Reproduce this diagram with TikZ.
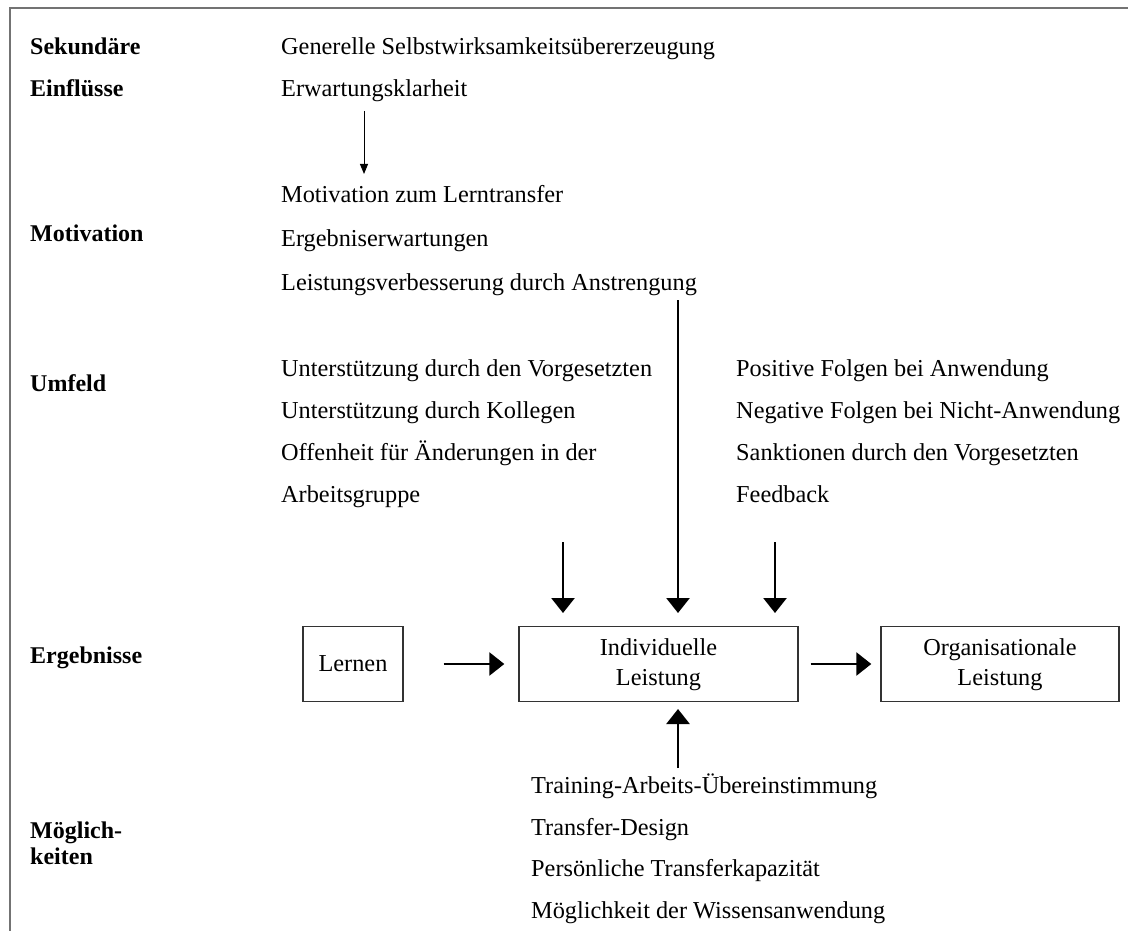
\documentclass[tikz,border=0pt]{standalone}
\usepackage{fontspec}
\setmainfont{Liberation Serif}
\usetikzlibrary{arrows.meta}
\newcommand{\boxlines}[2]{\raisebox{-2.5pt}{\begin{tabular}{@{}c@{}}#1\\#2\end{tabular}}}
\begin{document}
\begin{tikzpicture}[x=1pt,y=-1pt,
  txt/.style={anchor=base west,inner sep=0pt,font=\fontsize{24.3}{28}\selectfont},
  lbl/.style={anchor=base west,inner sep=0pt,font=\fontsize{24}{28}\selectfont\bfseries},
  box/.style={draw=black!80,line width=1.4pt,inner sep=0pt,font=\fontsize{24.3}{30}\selectfont},
  big/.style={line width=2.7pt,-{Triangle[length=15pt,width=23pt]}},
  thin/.style={line width=1pt,-{Triangle[length=10pt,width=8pt]}}]
\useasboundingbox (0,0) rectangle (1128,931);
\draw[black!55,line width=2.2pt] (10,931) -- (10,8) -- (1128,8);
% left labels
\node[lbl] (l1) at (30,55) {Sekundäre};
\node[lbl] (l2) at (30,97) {Einflüsse};
\node[lbl] (l3) at (30,241) {Motivation};
\node[lbl] (l4) at (30,391) {Umfeld};
\node[lbl] (l5) at (30,663) {Ergebnisse};
\node[lbl] (l6) at (30,838) {Möglich-};
\node[lbl] (l7) at (30,864) {keiten};
% middle column
\node[txt] (a1) at (281,55) {Generelle Selbstwirksamkeitsübererzeugung};
\node[txt] (a2) at (281,97) {Erwartungsklarheit};
\node[txt] (b1) at (281,203) {Motivation zum Lerntransfer};
\node[txt] (b2) at (281,247) {Ergebniserwartungen};
\node[txt] (b3) at (281,290) {Leistungsverbesserung durch Anstrengung};
\node[txt] (c1) at (281,376) {Unterstützung durch den Vorgesetzten};
\node[txt] (c2) at (281,418) {Unterstützung durch Kollegen};
\node[txt] (c3) at (281,460) {Offenheit für Änderungen in der};
\node[txt] (c4) at (281,502) {Arbeitsgruppe};
% right column
\node[txt] (d1) at (736,376) {Positive Folgen bei Anwendung};
\node[txt] (d2) at (736,418) {Negative Folgen bei Nicht-Anwendung};
\node[txt] (d3) at (736,460) {Sanktionen durch den Vorgesetzten};
\node[txt] (d4) at (736,502) {Feedback};
% bottom column
\node[txt] (e1) at (531,793) {Training-Arbeits-Übereinstimmung};
\node[txt] (e2) at (531,835) {Transfer-Design};
\node[txt] (e3) at (531,876) {Persönliche Transferkapazität};
\node[txt] (e4) at (531,918) {Möglichkeit der Wissensanwendung};
% boxes
\node[box,minimum width=100pt,minimum height=75pt] (lern) at (353,664) {Lernen};
\node[box,minimum width=279pt,minimum height=75pt] (ind) at (658.5,664) {\boxlines{Individuelle}{Leistung}};
\node[box,minimum width=238pt,minimum height=75pt] (org) at (1000,664) {\boxlines{Organisationale}{Leistung}};
% arrows
\coordinate (s0) at (364,111); \coordinate (t0) at (364,174);
\draw[thin] (s0) -- (t0);
\coordinate (s1) at (563,542); \coordinate (t1) at (563,613);
\coordinate (s2) at (678,300); \coordinate (t2) at (678,613);
\coordinate (s3) at (775,542); \coordinate (t3) at (775,613);
\draw[big] (s1) -- (t1);
\draw[big] (s2) -- (t2);
\draw[big] (s3) -- (t3);
\coordinate (s4) at (678,768); \coordinate (t4) at (678,709);
\draw[big] (s4) -- (t4);
\draw[big] ([xshift=40pt]lern.east) -- ([xshift=-14pt]ind.west);
\draw[big] ([xshift=12pt]ind.east) -- ([xshift=-9pt]org.west);
\end{tikzpicture}
\end{document}
